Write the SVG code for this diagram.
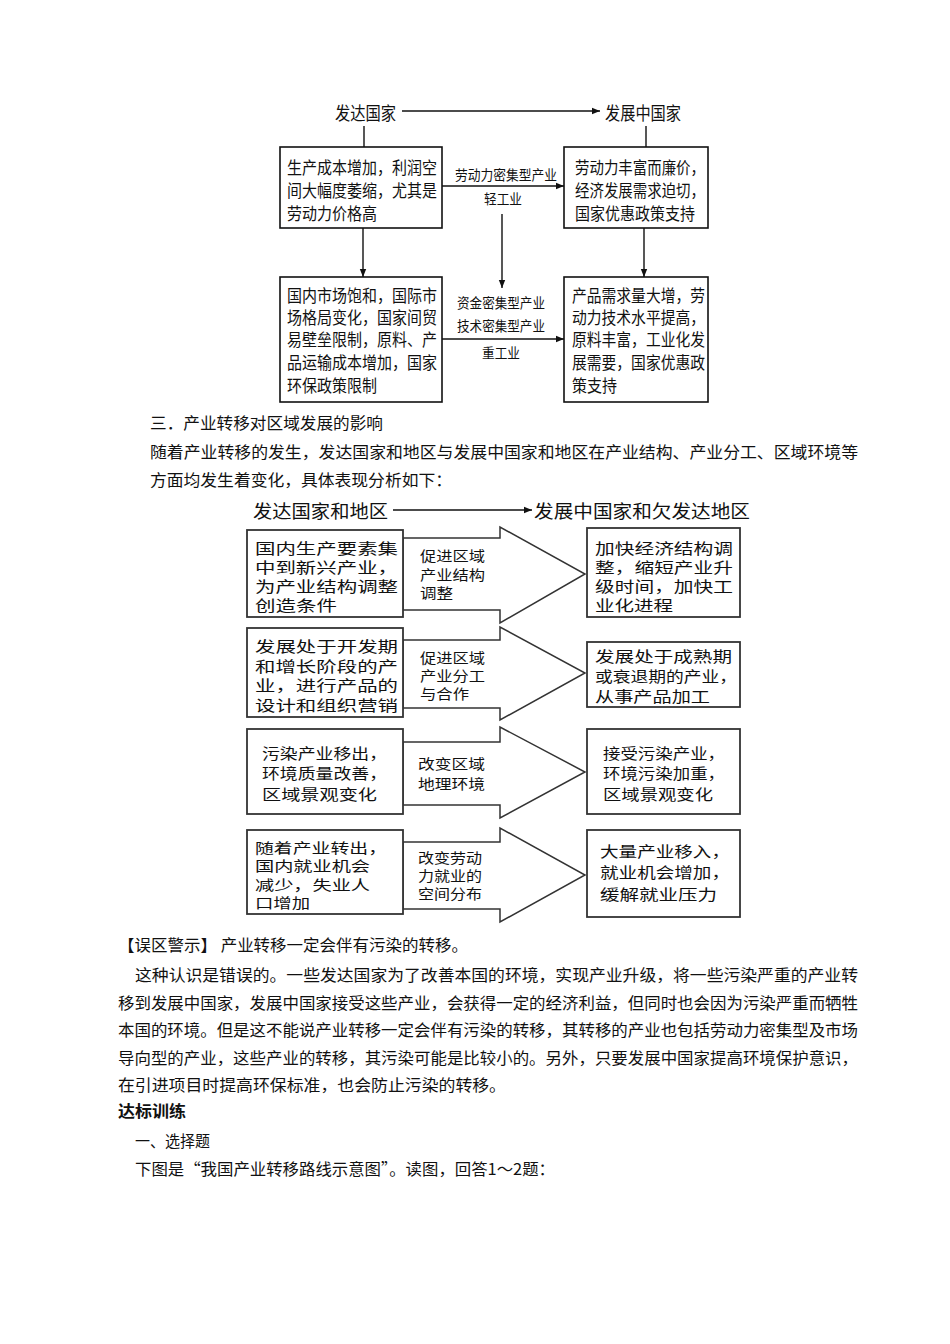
<svg xmlns="http://www.w3.org/2000/svg" width="950" height="1344" viewBox="0 0 950 1344">
<style>
text{font-family:"Noto Sans CJK SC","Noto Sans",sans-serif;fill:#111;dominant-baseline:central}
.t1{font-size:16.5px}
.ttl{font-size:18px}
.lab{font-size:13.5px}
.body{font-size:16px}
.m{font-size:15px}
.ms{font-size:14px}
.mt{font-size:18px}
.ml{font-size:14px}
.box{fill:#fff;stroke:#111;stroke-width:1.6}
.mbox{fill:#fff;stroke:#333;stroke-width:1.8}
.ln{fill:none;stroke:#111;stroke-width:1.4}
.big{fill:#fff;stroke:#333;stroke-width:1.5;stroke-linejoin:miter}
</style>
<defs>
<marker id="ah" viewBox="0 0 10 10" refX="10" refY="5" markerWidth="8" markerHeight="8" markerUnits="userSpaceOnUse" orient="auto">
<path d="M0,1 L10,5 L0,9 z" fill="#111"/>
</marker>
</defs>
<rect width="950" height="1344" fill="#fff"/>

<!-- Top diagram -->
<g id="connectors-top">
<line class="ln" x1="402" y1="111" x2="600" y2="111" marker-end="url(#ah)"/>
<line class="ln" x1="364" y1="126" x2="364" y2="147"/>
<line class="ln" x1="646" y1="126" x2="646" y2="147"/>
<line class="ln" x1="442" y1="186" x2="564" y2="186" marker-end="url(#ah)"/>
<line class="ln" x1="363" y1="228" x2="363" y2="277" marker-end="url(#ah)"/>
<line class="ln" x1="644" y1="228" x2="644" y2="277" marker-end="url(#ah)"/>
<line class="ln" x1="502" y1="214" x2="502" y2="288" marker-end="url(#ah)"/>
<line class="ln" x1="442" y1="339" x2="564" y2="339" marker-end="url(#ah)"/>
<text class="lab" x="506" y="174" text-anchor="middle" textLength="102" lengthAdjust="spacingAndGlyphs">劳动力密集型产业</text>
<text class="lab" x="503" y="198" text-anchor="middle" textLength="38" lengthAdjust="spacingAndGlyphs">轻工业</text>
<text class="lab" x="501" y="302" text-anchor="middle" textLength="88" lengthAdjust="spacingAndGlyphs">资金密集型产业</text>
<text class="lab" x="501" y="325" text-anchor="middle" textLength="88" lengthAdjust="spacingAndGlyphs">技术密集型产业</text>
<text class="lab" x="501" y="352" text-anchor="middle" textLength="38" lengthAdjust="spacingAndGlyphs">重工业</text>
</g>
<g id="top-title-left"><text class="ttl" x="335" y="112" textLength="61" lengthAdjust="spacingAndGlyphs">发达国家</text></g>
<g id="top-title-right"><text class="ttl" x="605" y="112" textLength="76" lengthAdjust="spacingAndGlyphs">发展中国家</text></g>
<g id="top-box-l1">
<rect class="box" x="280" y="147" width="162" height="81"/>
<text class="t1" x="287" y="167" textLength="150" lengthAdjust="spacingAndGlyphs">生产成本增加，利润空</text>
<text class="t1" x="287" y="190" textLength="150" lengthAdjust="spacingAndGlyphs">间大幅度萎缩，尤其是</text>
<text class="t1" x="287" y="213" textLength="90" lengthAdjust="spacingAndGlyphs">劳动力价格高</text>
</g>
<g id="top-box-r1">
<rect class="box" x="564" y="147" width="144" height="81"/>
<text class="t1" x="575" y="167" textLength="130" lengthAdjust="spacingAndGlyphs">劳动力丰富而廉价，</text>
<text class="t1" x="575" y="190" textLength="130" lengthAdjust="spacingAndGlyphs">经济发展需求迫切，</text>
<text class="t1" x="575" y="213" textLength="120" lengthAdjust="spacingAndGlyphs">国家优惠政策支持</text>
</g>
<g id="top-box-l2">
<rect class="box" x="280" y="277" width="162" height="125"/>
<text class="t1" x="287" y="295" textLength="150" lengthAdjust="spacingAndGlyphs">国内市场饱和，国际市</text>
<text class="t1" x="287" y="317" textLength="150" lengthAdjust="spacingAndGlyphs">场格局变化，国家间贸</text>
<text class="t1" x="287" y="339" textLength="150" lengthAdjust="spacingAndGlyphs">易壁垒限制，原料、产</text>
<text class="t1" x="287" y="362" textLength="150" lengthAdjust="spacingAndGlyphs">品运输成本增加，国家</text>
<text class="t1" x="287" y="385" textLength="90" lengthAdjust="spacingAndGlyphs">环保政策限制</text>
</g>
<g id="top-box-r2">
<rect class="box" x="564" y="277" width="144" height="125"/>
<text class="t1" x="572" y="295" textLength="133" lengthAdjust="spacingAndGlyphs">产品需求量大增，劳</text>
<text class="t1" x="572" y="317" textLength="133" lengthAdjust="spacingAndGlyphs">动力技术水平提高，</text>
<text class="t1" x="572" y="339" textLength="133" lengthAdjust="spacingAndGlyphs">原料丰富，工业化发</text>
<text class="t1" x="572" y="362" textLength="133" lengthAdjust="spacingAndGlyphs">展需要，国家优惠政</text>
<text class="t1" x="572" y="385" textLength="45" lengthAdjust="spacingAndGlyphs">策支持</text>
</g>

<!-- Section text -->
<g id="text-section">
<text class="body" x="150" y="422" textLength="233" lengthAdjust="spacingAndGlyphs">三．产业转移对区域发展的影响</text>
<text class="body" x="150" y="451" textLength="708" lengthAdjust="spacingAndGlyphs">随着产业转移的发生，发达国家和地区与发展中国家和地区在产业结构、产业分工、区域环境等</text>
<text class="body" x="150" y="479" textLength="302" lengthAdjust="spacingAndGlyphs">方面均发生着变化，具体表现分析如下：</text>
</g>

<!-- Middle diagram -->
<g id="connectors-mid">
<line class="ln" x1="393" y1="510" x2="532" y2="510" marker-end="url(#ah)"/>
</g>
<g id="mid-title-left"><text class="mt" x="253" y="510" textLength="135" lengthAdjust="spacingAndGlyphs">发达国家和地区</text></g>
<g id="mid-title-right"><text class="mt" x="534" y="510" textLength="216" lengthAdjust="spacingAndGlyphs">发展中国家和欠发达地区</text></g>

<g id="row1-arrow">
<polygon class="big" points="403,538 500,538 500,527 585,574 500,623 500,610 403,610"/>
<text class="ml" x="420" y="555" textLength="65" lengthAdjust="spacingAndGlyphs">促进区域</text>
<text class="ml" x="420" y="574" textLength="65" lengthAdjust="spacingAndGlyphs">产业结构</text>
<text class="ml" x="420" y="592" textLength="33" lengthAdjust="spacingAndGlyphs">调整</text>
</g>
<g id="row1-left">
<rect class="mbox" x="247" y="530" width="156" height="87"/>
<text class="m" x="255" y="547" textLength="143" lengthAdjust="spacingAndGlyphs">国内生产要素集</text>
<text class="m" x="255" y="566" textLength="143" lengthAdjust="spacingAndGlyphs">中到新兴产业，</text>
<text class="m" x="255" y="585" textLength="143" lengthAdjust="spacingAndGlyphs">为产业结构调整</text>
<text class="m" x="255" y="604" textLength="82" lengthAdjust="spacingAndGlyphs">创造条件</text>
</g>
<g id="row1-right">
<rect class="mbox" x="587" y="528" width="153" height="89"/>
<text class="m" x="595" y="547" textLength="138" lengthAdjust="spacingAndGlyphs">加快经济结构调</text>
<text class="m" x="595" y="566" textLength="138" lengthAdjust="spacingAndGlyphs">整，缩短产业升</text>
<text class="m" x="595" y="585" textLength="138" lengthAdjust="spacingAndGlyphs">级时间，加快工</text>
<text class="m" x="595" y="604" textLength="78" lengthAdjust="spacingAndGlyphs">业化进程</text>
</g>

<g id="row2-arrow">
<polygon class="big" points="403,640 500,640 500,627 585,673 500,720 500,708 403,708"/>
<text class="ml" x="420" y="657" textLength="65" lengthAdjust="spacingAndGlyphs">促进区域</text>
<text class="ml" x="420" y="675" textLength="65" lengthAdjust="spacingAndGlyphs">产业分工</text>
<text class="ml" x="420" y="693" textLength="49" lengthAdjust="spacingAndGlyphs">与合作</text>
</g>
<g id="row2-left">
<rect class="mbox" x="247" y="628" width="156" height="89"/>
<text class="m" x="255" y="645" textLength="143" lengthAdjust="spacingAndGlyphs">发展处于开发期</text>
<text class="m" x="255" y="665" textLength="143" lengthAdjust="spacingAndGlyphs">和增长阶段的产</text>
<text class="m" x="255" y="684" textLength="143" lengthAdjust="spacingAndGlyphs">业，进行产品的</text>
<text class="m" x="255" y="704" textLength="143" lengthAdjust="spacingAndGlyphs">设计和组织营销</text>
</g>
<g id="row2-right">
<rect class="mbox" x="587" y="642" width="153" height="65"/>
<text class="m" x="595" y="655" textLength="137" lengthAdjust="spacingAndGlyphs">发展处于成熟期</text>
<text class="m" x="595" y="675" textLength="142" lengthAdjust="spacingAndGlyphs">或衰退期的产业，</text>
<text class="m" x="595" y="695" textLength="115" lengthAdjust="spacingAndGlyphs">从事产品加工</text>
</g>

<g id="row3-arrow">
<polygon class="big" points="403,742 500,742 500,727 585,772 500,818 500,805 403,805"/>
<text class="ml" x="418" y="763" textLength="67" lengthAdjust="spacingAndGlyphs">改变区域</text>
<text class="ml" x="418" y="783" textLength="67" lengthAdjust="spacingAndGlyphs">地理环境</text>
</g>
<g id="row3-left">
<rect class="mbox" x="247" y="729" width="156" height="85"/>
<text class="m" x="262" y="752" textLength="125" lengthAdjust="spacingAndGlyphs">污染产业移出，</text>
<text class="m" x="262" y="772" textLength="125" lengthAdjust="spacingAndGlyphs">环境质量改善，</text>
<text class="m" x="262" y="793" textLength="115" lengthAdjust="spacingAndGlyphs">区域景观变化</text>
</g>
<g id="row3-right">
<rect class="mbox" x="587" y="729" width="153" height="85"/>
<text class="m" x="603" y="752" textLength="122" lengthAdjust="spacingAndGlyphs">接受污染产业，</text>
<text class="m" x="603" y="772" textLength="122" lengthAdjust="spacingAndGlyphs">环境污染加重，</text>
<text class="m" x="603" y="793" textLength="110" lengthAdjust="spacingAndGlyphs">区域景观变化</text>
</g>

<g id="row4-arrow">
<polygon class="big" points="403,842 500,842 500,828 585,875 500,922 500,909 403,909"/>
<text class="ml" x="418" y="857" textLength="64" lengthAdjust="spacingAndGlyphs">改变劳动</text>
<text class="ml" x="418" y="875" textLength="64" lengthAdjust="spacingAndGlyphs">力就业的</text>
<text class="ml" x="418" y="893" textLength="64" lengthAdjust="spacingAndGlyphs">空间分布</text>
</g>
<g id="row4-left">
<rect class="mbox" x="247" y="830" width="156" height="84"/>
<text class="ms" x="255" y="847" textLength="132" lengthAdjust="spacingAndGlyphs">随着产业转出，</text>
<text class="ms" x="255" y="865" textLength="115" lengthAdjust="spacingAndGlyphs">国内就业机会</text>
<text class="ms" x="255" y="884" textLength="115" lengthAdjust="spacingAndGlyphs">减少，失业人</text>
<text class="ms" x="255" y="902" textLength="55" lengthAdjust="spacingAndGlyphs">口增加</text>
</g>
<g id="row4-right">
<rect class="mbox" x="587" y="830" width="153" height="87"/>
<text class="m" x="600" y="850" textLength="130" lengthAdjust="spacingAndGlyphs">大量产业移入，</text>
<text class="m" x="600" y="871" textLength="130" lengthAdjust="spacingAndGlyphs">就业机会增加，</text>
<text class="m" x="600" y="893" textLength="117" lengthAdjust="spacingAndGlyphs">缓解就业压力</text>
</g>

<!-- Bottom text -->
<g id="text-bottom">
<text class="body" x="118" y="944" textLength="350" lengthAdjust="spacingAndGlyphs">【误区警示】 产业转移一定会伴有污染的转移。</text>
<text class="body" x="135" y="974" textLength="723" lengthAdjust="spacingAndGlyphs">这种认识是错误的。一些发达国家为了改善本国的环境，实现产业升级，将一些污染严重的产业转</text>
<text class="body" x="118" y="1002" textLength="740" lengthAdjust="spacingAndGlyphs">移到发展中国家，发展中国家接受这些产业，会获得一定的经济利益，但同时也会因为污染严重而牺牲</text>
<text class="body" x="118" y="1029" textLength="740" lengthAdjust="spacingAndGlyphs">本国的环境。但是这不能说产业转移一定会伴有污染的转移，其转移的产业也包括劳动力密集型及市场</text>
<text class="body" x="118" y="1057" textLength="740" lengthAdjust="spacingAndGlyphs">导向型的产业，这些产业的转移，其污染可能是比较小的。另外，只要发展中国家提高环境保护意识，</text>
<text class="body" x="118" y="1084" textLength="388" lengthAdjust="spacingAndGlyphs">在引进项目时提高环保标准，也会防止污染的转移。</text>
<text class="body" x="118" y="1110" font-weight="bold" textLength="68" lengthAdjust="spacingAndGlyphs">达标训练</text>
<text class="body" x="135" y="1140" textLength="75" lengthAdjust="spacingAndGlyphs">一、选择题</text>
<text class="body" x="135" y="1168" textLength="420" lengthAdjust="spacingAndGlyphs">下图是“我国产业转移路线示意图”。读图，回答1～2题：</text>
</g>
</svg>
